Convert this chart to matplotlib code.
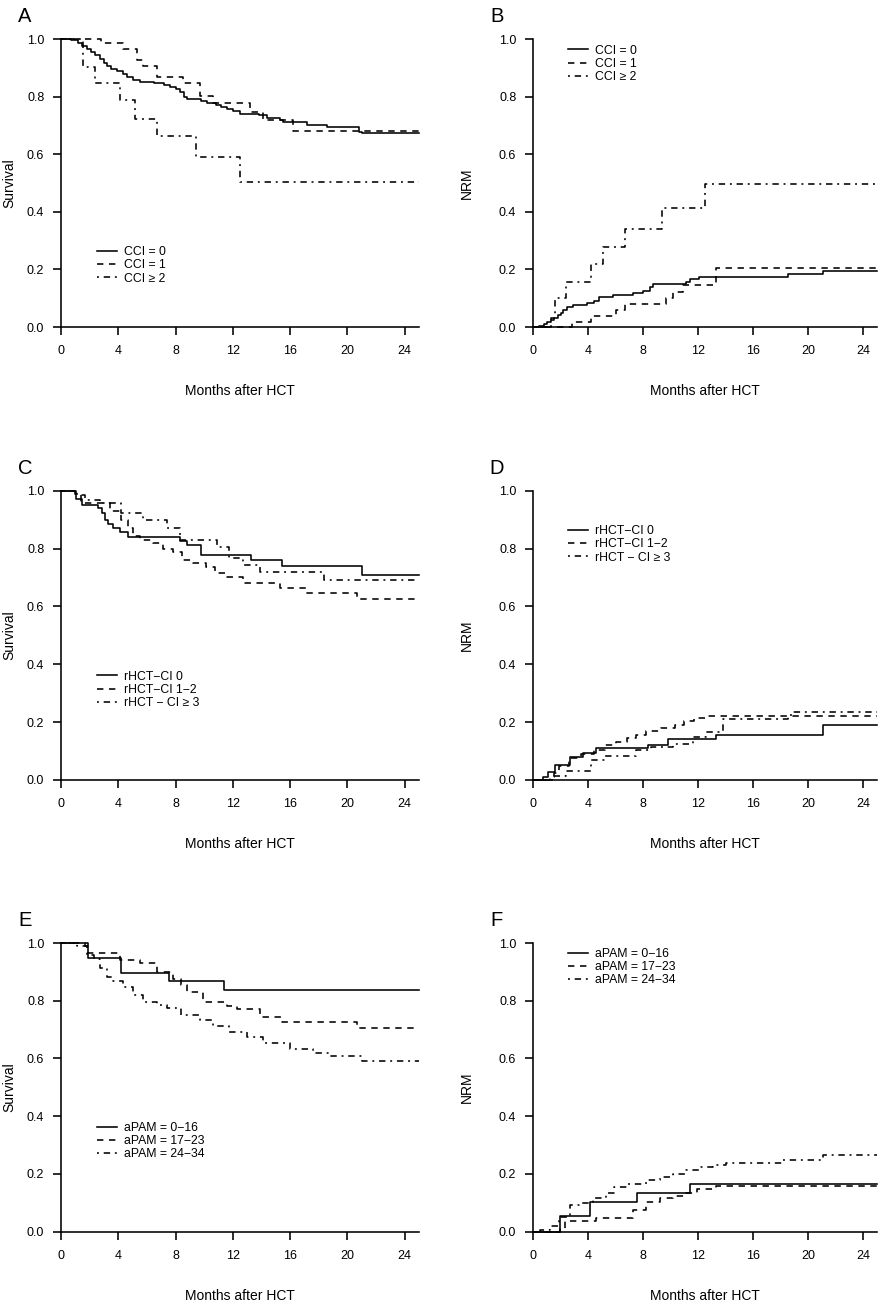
import numpy as np
import matplotlib
matplotlib.use("Agg")
import matplotlib.pyplot as plt

plt.rcParams['font.family'] = ['Liberation Sans', 'DejaVu Sans']

# ---------------- data (time in months, value after step) ----------------
# Panel A: survival by CCI
A_cci0_t = [0.7, 1.2, 1.5, 1.8, 2.1, 2.4, 2.7, 3.0, 3.2, 3.5, 3.9, 4.3, 4.6, 5.0, 5.5, 6.5, 7.2, 7.6, 8.0, 8.3, 8.6, 8.8, 9.8, 10.2, 10.8, 11.2, 11.6, 12.0, 12.5, 13.8, 14.4, 15.3, 15.5, 17.2, 18.6, 20.8, 21.0]
A_cci0_v = [0.995, 0.985, 0.975, 0.965, 0.955, 0.945, 0.93, 0.915, 0.905, 0.895, 0.888, 0.878, 0.868, 0.858, 0.852, 0.848, 0.842, 0.835, 0.826, 0.815, 0.80, 0.792, 0.785, 0.778, 0.772, 0.765, 0.757, 0.75, 0.74, 0.735, 0.727, 0.718, 0.712, 0.703, 0.694, 0.676, 0.672]
A_cci1_t = [2.8, 4.35, 5.3, 5.75, 6.7, 8.5, 9.7, 10.6, 13.2, 14.1, 16.2]
A_cci1_v = [0.985, 0.964, 0.927, 0.906, 0.867, 0.846, 0.802, 0.777, 0.748, 0.719, 0.682]
A_cci2_t = [1.56, 2.37, 4.12, 5.17, 6.68, 9.43, 12.5]
A_cci2_v = [0.904, 0.846, 0.788, 0.723, 0.663, 0.591, 0.505]

# Panel B: NRM by CCI
B_cci0_t = [0.4, 0.8, 1.0, 1.3, 1.5, 1.8, 2.0, 2.2, 2.5, 2.9, 3.9, 4.4, 4.8, 5.8, 7.3, 8.0, 8.5, 8.7, 11.1, 11.4, 12.1, 18.5, 21.1]
B_cci0_v = [0.003, 0.01, 0.018, 0.025, 0.03, 0.04, 0.05, 0.06, 0.07, 0.076, 0.082, 0.09, 0.103, 0.11, 0.117, 0.126, 0.14, 0.148, 0.157, 0.167, 0.175, 0.185, 0.193]
B_cci1_t = [2.8, 4.2, 6.0, 6.7, 9.7, 10.2, 10.9, 13.3]
B_cci1_v = [0.018, 0.038, 0.059, 0.079, 0.10, 0.123, 0.146, 0.206]
B_cci2_t = [1.3, 1.6, 2.4, 4.2, 5.1, 6.7, 9.4, 12.5]
B_cci2_v = [0.03, 0.10, 0.157, 0.218, 0.279, 0.339, 0.412, 0.497]

# Panel C: survival by rHCT-CI
C_r0_t = [1.05, 1.44, 2.6, 2.84, 3.07, 3.3, 3.65, 4.1, 4.7, 8.3, 8.77, 9.8, 13.3, 15.4, 21.0]
C_r0_v = [0.973, 0.95, 0.939, 0.924, 0.899, 0.885, 0.87, 0.856, 0.841, 0.827, 0.812, 0.778, 0.76, 0.74, 0.709]
C_r12_t = [1.0, 1.4, 3.4, 4.2, 4.7, 5.0, 5.5, 6.44, 7.14, 7.84, 8.42, 9.23, 10.16, 10.74, 11.56, 12.72, 15.28, 17.1, 20.7]
C_r12_v = [0.988, 0.956, 0.93, 0.899, 0.87, 0.845, 0.829, 0.82, 0.80, 0.789, 0.76, 0.749, 0.737, 0.714, 0.703, 0.682, 0.662, 0.645, 0.626]
C_r3_t = [1.1, 1.7, 2.7, 4.2, 5.75, 7.4, 8.3, 10.9, 11.7, 12.7, 13.9, 18.4]
C_r3_v = [0.985, 0.968, 0.956, 0.922, 0.90, 0.87, 0.83, 0.804, 0.766, 0.743, 0.72, 0.691]

# Panel D: NRM by rHCT-CI
D_r0_t = [0.73, 1.1, 1.57, 2.66, 3.6, 4.6, 8.35, 9.8, 13.3, 21.1]
D_r0_v = [0.01, 0.029, 0.052, 0.08, 0.094, 0.109, 0.121, 0.14, 0.155, 0.19]
D_r12_t = [1.2, 1.5, 1.9, 2.6, 3.5, 4.4, 5.2, 6.0, 6.8, 7.5, 8.2, 9.3, 10.3, 11.0, 11.7, 12.5]
D_r12_v = [0.01, 0.025, 0.05, 0.075, 0.09, 0.105, 0.12, 0.13, 0.145, 0.155, 0.17, 0.18, 0.19, 0.205, 0.215, 0.222]
D_r3_t = [1.45, 2.4, 4.2, 5.2, 7.5, 8.6, 10.2, 11.6, 12.6, 13.8, 18.5, 18.9]
D_r3_v = [0.015, 0.03, 0.069, 0.084, 0.104, 0.115, 0.124, 0.15, 0.167, 0.211, 0.225, 0.236]

# Panel E: survival by aPAM
E_p1_t = [1.9, 4.16, 7.56, 11.4]
E_p1_v = [0.949, 0.897, 0.868, 0.836]
E_p2_t = [1.67, 1.9, 4.1, 5.5, 6.7, 7.8, 8.4, 8.8, 9.9, 11.6, 12.3, 13.9, 15.4, 20.7]
E_p2_v = [0.99, 0.964, 0.941, 0.932, 0.90, 0.877, 0.855, 0.831, 0.797, 0.782, 0.77, 0.745, 0.727, 0.704]
E_p3_t = [1.1, 1.8, 2.3, 2.7, 3.2, 3.65, 4.35, 5.05, 5.7, 6.7, 7.4, 8.4, 9.7, 10.6, 11.7, 13.0, 14.1, 16.0, 17.6, 18.8, 21.0]
E_p3_v = [0.99, 0.96, 0.943, 0.915, 0.883, 0.87, 0.849, 0.82, 0.797, 0.785, 0.774, 0.75, 0.733, 0.713, 0.693, 0.673, 0.652, 0.632, 0.618, 0.609, 0.592]

# Panel F: NRM by aPAM
F_p1_t = [1.94, 4.16, 7.58, 11.4]
F_p1_v = [0.054, 0.104, 0.133, 0.165]
F_p2_t = [1.94, 2.3, 4.6, 7.3, 8.2, 9.2, 10.2, 11.1, 11.9, 13.3]
F_p2_v = [0.01, 0.037, 0.048, 0.075, 0.104, 0.115, 0.124, 0.135, 0.147, 0.16]
F_p3_t = [0.5, 1.2, 1.9, 2.66, 3.4, 4.36, 5.3, 5.9, 6.8, 8.2, 9.2, 10.2, 11.1, 12.1, 13.1, 14.0, 18.2, 21.1]
F_p3_v = [0.005, 0.02, 0.05, 0.092, 0.10, 0.115, 0.133, 0.156, 0.164, 0.179, 0.188, 0.20, 0.214, 0.223, 0.231, 0.239, 0.248, 0.266]

labels_cci = ["CCI = 0", "CCI = 1", "CCI \u2265 2"]
labels_hct = ["rHCT\u2212CI 0", "rHCT\u2212CI 1\u22122", "rHCT \u2212 CI \u2265 3"]
labels_pam = ["aPAM = 0\u221216", "aPAM = 17\u221223", "aPAM = 24\u221234"]

x_ticks = [0, 4, 8, 12, 16, 20, 24]
y_ticks = [0.0, 0.2, 0.4, 0.6, 0.8, 1.0]
XMAX = 25

# ---------------- layout ----------------
W, H = 894, 1308
fig = plt.figure(figsize=(W / 100, H / 100), dpi=100)

def axpix(left, top, right, bottom):
    return fig.add_axes([left / W, 1 - bottom / H, (right - left) / W, (bottom - top) / H])

LW = 1.15
styles = [dict(linestyle='-'),
          dict(linestyle=(0, (4, 3.5))),
          dict(linestyle=(0, (1.2, 3, 4, 3)))]

def km(ax, t, v, start, style, label):
    tt = np.concatenate([[0.0], np.asarray(t, float), [XMAX]])
    vv = np.concatenate([[start], np.asarray(v, float), [v[-1]]])
    ax.step(tt, vv, where='post', color='black', lw=LW, clip_on=False, label=label, **style)

def panel(ax, letter, series, start, ylabel, labels, leg_y, ylab_off):
    for (t, v), st, lab in zip(series, styles, labels):
        km(ax, t, v, start, st, lab)
    ax.set_xlim(0, XMAX)
    ax.set_ylim(0, 1)
    ax.set_xticks(x_ticks)
    ax.set_yticks(y_ticks)
    ax.set_yticklabels([f"{y:.1f}" for y in y_ticks])
    for s in ['top', 'right']:
        ax.spines[s].set_visible(False)
    for s in ['left', 'bottom']:
        ax.spines[s].set_linewidth(LW)
    ax.tick_params(axis='both', direction='out', length=5.5, width=LW, labelsize=9)
    ax.tick_params(axis='x', pad=7.5)
    ax.tick_params(axis='y', pad=6.5)
    ax.annotate(letter, xy=(0, 1), xycoords='axes fraction', xytext=(-36 * 0.72, 22 * 0.72),
                textcoords='offset points', ha='center', va='center', fontsize=14.5)
    ax.annotate("Months after HCT", xy=(0.5, 0), xycoords='axes fraction',
                xytext=(0, -64 * 0.72), textcoords='offset points',
                ha='center', va='center', fontsize=10)
    ax.annotate(ylabel, xy=(0, 0.5), xycoords='axes fraction',
                xytext=(-ylab_off * 0.72, 0), textcoords='offset points',
                ha='center', va='center', fontsize=10, rotation=90)
    ax.legend(loc='upper left', bbox_to_anchor=(0.101, leg_y), frameon=False,
              fontsize=8.8, handlelength=1.62, handletextpad=0.6, labelspacing=0.1,
              borderpad=0, borderaxespad=0)

axA = axpix(61, 39, 419, 327)
axB = axpix(533, 39, 877, 327)
axC = axpix(61, 490.7, 419, 780)
axD = axpix(533, 490.7, 877, 780)
axE = axpix(61, 943, 419, 1231.7)
axF = axpix(533, 943, 877, 1231.7)

panel(axA, "A", [(A_cci0_t, A_cci0_v), (A_cci1_t, A_cci1_v), (A_cci2_t, A_cci2_v)], 1.0, "Survival", labels_cci, 0.281, 52)
panel(axB, "B", [(B_cci0_t, B_cci0_v), (B_cci1_t, B_cci1_v), (B_cci2_t, B_cci2_v)], 0.0, "NRM", labels_cci, 0.980, 66)
panel(axC, "C", [(C_r0_t, C_r0_v), (C_r12_t, C_r12_v), (C_r3_t, C_r3_v)], 1.0, "Survival", labels_hct, 0.378, 52)
panel(axD, "D", [(D_r0_t, D_r0_v), (D_r12_t, D_r12_v), (D_r3_t, D_r3_v)], 0.0, "NRM", labels_hct, 0.881, 66)
panel(axE, "E", [(E_p1_t, E_p1_v), (E_p2_t, E_p2_v), (E_p3_t, E_p3_v)], 1.0, "Survival", labels_pam, 0.380, 52)
panel(axF, "F", [(F_p1_t, F_p1_v), (F_p2_t, F_p2_v), (F_p3_t, F_p3_v)], 0.0, "NRM", labels_pam, 0.983, 66)

fig.savefig("out.png", dpi=100)
